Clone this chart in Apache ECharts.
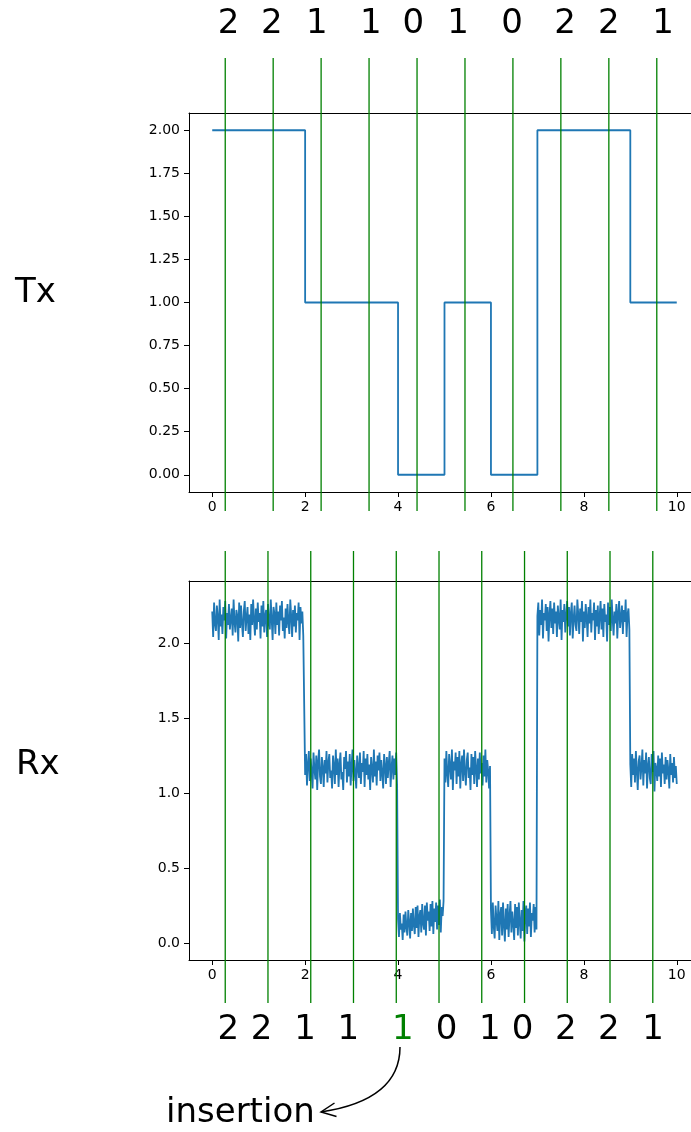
<!DOCTYPE html>
<html>
<head>
<meta charset="utf-8">
<script src="https://cdn.jsdelivr.net/npm/echarts@6/dist/echarts.min.js"></script>
<style>
html,body{margin:0;padding:0;background:#fff;}
#chart{width:691px;height:1132px;}
</style>
</head>
<body>
<div id="chart"></div>
<script>
// ---- data ----
const txX = [0, 1, 2, 3, 4, 5, 6, 7, 8, 9, 10];
const txLevels = [2, 2, 1, 1, 0, 1, 0, 2, 2, 1, 1];

const rxStep = 0.02;
const rxValues = [
  2.21,2.04,2.27,2.13,2.08,2.25,2.17,2.02,2.29,2.11,
  2.19,2.06,2.24,2.15,2.28,2.03,2.20,2.12,2.26,2.09,
  2.16,2.23,2.05,2.29,2.14,2.07,2.22,2.18,2.01,2.27,
  2.10,2.25,2.13,2.04,2.21,2.28,2.08,2.17,2.24,2.06,
  2.19,2.02,2.26,2.12,2.29,2.15,2.05,2.23,2.09,2.27,
  2.14,2.20,2.03,2.25,2.11,2.28,2.07,2.18,2.22,2.04,
  2.26,2.13,2.09,2.29,2.16,2.02,2.24,2.19,2.06,2.27,
  2.12,2.21,2.05,2.25,2.15,2.28,2.08,2.17,2.03,2.23,
  2.10,2.26,2.14,2.06,2.29,2.18,2.04,2.22,2.11,2.25,
  2.07,2.20,2.15,2.27,2.02,2.24,2.13,2.21,2.05,2.06,
  1.12,1.26,1.05,1.19,1.28,1.08,1.23,1.14,1.03,1.27,
  1.16,1.09,1.25,1.02,1.21,1.29,1.11,1.06,1.24,1.17,
  1.04,1.22,1.13,1.28,1.07,1.20,1.26,1.10,1.15,1.03,
  1.25,1.18,1.06,1.29,1.12,1.23,1.04,1.19,1.27,1.09,
  1.14,1.02,1.24,1.16,1.28,1.07,1.21,1.11,1.26,1.05,
  1.18,1.29,1.08,1.22,1.13,1.03,1.25,1.17,1.10,1.27,
  1.06,1.20,1.14,1.28,1.04,1.23,1.12,1.26,1.09,1.19,
  1.02,1.24,1.16,1.07,1.29,1.11,1.21,1.05,1.25,1.15,
  1.27,1.08,1.22,1.13,1.03,1.26,1.18,1.06,1.24,1.10,
  1.20,1.28,1.04,1.17,1.25,1.09,1.23,1.12,1.27,1.05,
  0.16,0.04,0.20,0.09,0.13,0.02,0.19,0.07,0.21,0.11,
  0.05,0.22,0.14,0.03,0.20,0.08,0.23,0.12,0.06,0.24,
  0.10,0.25,0.04,0.18,0.22,0.07,0.26,0.13,0.09,0.25,
  0.05,0.27,0.15,0.21,0.08,0.26,0.11,0.28,0.06,0.23,
  0.14,0.27,0.09,0.25,0.12,0.29,0.07,0.24,0.18,0.28,
  1.23,1.07,1.28,1.13,1.04,1.26,1.18,1.09,1.29,1.02,
  1.21,1.15,1.27,1.06,1.24,1.11,1.28,1.03,1.19,1.25,
  1.08,1.29,1.14,1.05,1.22,1.27,1.10,1.17,1.02,1.26,
  1.12,1.24,1.06,1.28,1.16,1.04,1.23,1.09,1.27,1.13,
  1.20,1.05,1.25,1.11,1.29,1.07,1.22,1.15,1.03,1.18,
  0.22,0.06,0.27,0.11,0.03,0.25,0.15,0.08,0.28,0.02,
  0.19,0.24,0.05,0.27,0.12,0.01,0.23,0.09,0.26,0.04,
  0.18,0.28,0.07,0.21,0.13,0.02,0.26,0.10,0.24,0.05,
  0.27,0.14,0.03,0.22,0.08,0.28,0.01,0.19,0.25,0.06,
  0.23,0.11,0.27,0.04,0.20,0.15,0.26,0.07,0.24,0.09,
  2.18,2.27,2.05,2.22,2.12,2.29,2.03,2.20,2.15,2.26,
  2.08,2.24,2.01,2.19,2.28,2.10,2.23,2.06,2.27,2.13,
  2.21,2.04,2.25,2.16,2.09,2.29,2.02,2.22,2.14,2.26,
  2.07,2.18,2.28,2.11,2.24,2.05,2.20,2.27,2.03,2.16,
  2.25,2.12,2.08,2.29,2.19,2.06,2.23,2.14,2.28,2.01,
  2.21,2.10,2.26,2.17,2.04,2.24,2.13,2.29,2.07,2.20,
  2.15,2.27,2.02,2.22,2.11,2.25,2.06,2.18,2.28,2.09,
  2.23,2.04,2.26,2.14,2.19,2.01,2.27,2.12,2.24,2.08,
  2.29,2.16,2.05,2.21,2.13,2.26,2.03,2.20,2.28,2.10,
  2.17,2.25,2.06,2.22,2.14,2.29,2.04,2.19,2.23,2.09,
  1.19,1.04,1.26,1.12,1.23,1.07,1.28,1.15,1.02,1.21,
  1.25,1.09,1.17,1.29,1.05,1.22,1.13,1.27,1.03,1.18,
  1.24,1.10,1.06,1.26,1.14,1.28,1.01,1.20,1.16,1.08,
  1.25,1.11,1.23,1.04,1.27,1.13,1.19,1.06,1.24,1.09,
  1.22,1.15,1.03,1.26,1.12,1.20,1.07,1.24,1.10,1.18,
  1.06
];

const topLineX = [0.280, 1.312, 2.344, 3.376, 4.409, 5.441, 6.473, 7.505, 8.538, 9.570];
const botLineX = [0.280, 1.200, 2.121, 3.041, 3.962, 4.882, 5.802, 6.723, 7.643, 8.563, 9.484];

const topDigits = ['2','2','1','1','0','1','0','2','2','1'];
const topDigitX = [0.351, 1.284, 2.252, 3.413, 4.329, 5.290, 6.452, 7.598, 8.538, 9.705];
const botDigits = ['2','2','1','1','1','0','1','0','2','2','1'];
const botDigitX = [0.344, 1.060, 2.000, 2.931, 4.103, 5.047, 5.978, 6.682, 7.609, 8.538, 9.490];
const insertedIndex = 4;

const xTicks = [0, 2, 4, 6, 8, 10];
const txYTicks = [0, 0.25, 0.5, 0.75, 1, 1.25, 1.5, 1.75, 2];
const rxYTicks = [0, 0.5, 1, 1.5, 2];

// ---- chart ----
const FONT = 'DejaVu Sans';
const X_MIN = -0.5, X_MAX = 10.3065; // right part of the axes is cropped by the figure edge
const chart = echarts.init(document.getElementById('chart'), null, {renderer: 'canvas'});

function mainX(gi) {
  return {
    gridIndex: gi, type: 'value', min: X_MIN, max: X_MAX, position: 'bottom',
    axisLine: {show: true, onZero: false, lineStyle: {color: '#000', width: 1}},
    axisTick: {show: true, length: 5, inside: false, customValues: xTicks, lineStyle: {color: '#000', width: 1}},
    axisLabel: {show: true, customValues: xTicks, fontSize: 14, color: '#000', fontFamily: FONT, margin: 8},
    splitLine: {show: false}
  };
}
function topSpine(gi) {
  return {
    gridIndex: gi, type: 'value', min: X_MIN, max: X_MAX, position: 'top',
    axisLine: {show: true, onZero: false, lineStyle: {color: '#000', width: 1}},
    axisTick: {show: false}, axisLabel: {show: false}, splitLine: {show: false}
  };
}
function mainY(gi, min, max, ticks, dec) {
  return {
    gridIndex: gi, type: 'value', min: min, max: max,
    axisLine: {show: true, onZero: false, lineStyle: {color: '#000', width: 1}},
    axisTick: {show: true, length: 5, inside: false, customValues: ticks, lineStyle: {color: '#000', width: 1}},
    axisLabel: {show: true, customValues: ticks, fontSize: 14, color: '#000', fontFamily: FONT, margin: 9,
      formatter: v => Number(v).toFixed(dec)},
    splitLine: {show: false}
  };
}
function hiddenX(gi) { return {gridIndex: gi, type: 'value', min: X_MIN, max: X_MAX, show: false}; }
function hiddenY(gi) { return {gridIndex: gi, type: 'value', min: 0, max: 1, show: false}; }

function vlineSeries(gi, xs) {
  return {
    type: 'custom', xAxisIndex: gi, yAxisIndex: gi, silent: true, z: 10,
    data: xs.map(x => [x]),
    renderItem: function (params, api) {
      const p0 = api.coord([api.value(0), 0]);
      const p1 = api.coord([api.value(0), 1]);
      return {type: 'line', shape: {x1: p0[0], y1: p0[1], x2: p1[0], y2: p1[1]},
        style: {stroke: '#008000', lineWidth: 1.3}};
    }
  };
}
function digitSeries(gi, xs, labels, highlight) {
  return {
    type: 'custom', xAxisIndex: gi, yAxisIndex: gi, silent: true, z: 10,
    data: xs.map((x, i) => [x, i]),
    renderItem: function (params, api) {
      const i = api.value(1);
      const p = api.coord([api.value(0), 0.5]);
      return {type: 'text', x: p[0], y: p[1],
        style: {text: labels[i], fontSize: 34, fontFamily: FONT,
          fill: i === highlight ? '#008000' : '#000', align: 'center', verticalAlign: 'middle'}};
    }
  };
}

const option = {
  animation: false,
  backgroundColor: '#fff',
  grid: [
    {left: 189, right: 0, top: 113, height: 379},
    {left: 189, right: 0, top: 581, height: 379},
    {left: 189, right: 0, top: 58, height: 453},
    {left: 189, right: 0, top: 551, height: 452},
    {left: 189, right: 0, top: 2, height: 45},
    {left: 189, right: 0, top: 1008, height: 45}
  ],
  xAxis: [mainX(0), mainX(1), hiddenX(2), hiddenX(3), hiddenX(4), hiddenX(5), topSpine(0), topSpine(1)],
  yAxis: [
    mainY(0, -0.1, 2.1, txYTicks, 2),
    mainY(1, -0.113, 2.413, rxYTicks, 1),
    hiddenY(2), hiddenY(3), hiddenY(4), hiddenY(5)
  ],
  series: [
    {type: 'line', xAxisIndex: 0, yAxisIndex: 0, step: 'end', showSymbol: false, silent: true,
      data: txX.map((x, i) => [x, txLevels[i]]),
      lineStyle: {color: '#1f77b4', width: 1.8}},
    {type: 'line', xAxisIndex: 1, yAxisIndex: 1, showSymbol: false, silent: true, sampling: null,
      data: rxValues.map((v, i) => [i * rxStep, v]),
      lineStyle: {color: '#1f77b4', width: 1.8}},
    vlineSeries(2, topLineX),
    vlineSeries(3, botLineX),
    digitSeries(4, topDigitX, topDigits, -1),
    digitSeries(5, botDigitX, botDigits, insertedIndex)
  ],
  graphic: [
    {type: 'text', left: 15, top: 276, style: {text: 'Tx', fontSize: 34, fontFamily: FONT, fill: '#000'}},
    {type: 'text', left: 16, top: 748, style: {text: 'Rx', fontSize: 34, fontFamily: FONT, fill: '#000'}},
    {type: 'text', left: 166, top: 1096, style: {text: 'insertion', fontSize: 34, fontFamily: FONT, fill: '#000'}},
    {type: 'bezierCurve', shape: {x1: 400, y1: 1047, cpx1: 400, cpy1: 1100, x2: 321, y2: 1112},
      style: {stroke: '#000', lineWidth: 1.5, fill: null}},
    {type: 'polyline', shape: {points: [[334.5, 1103], [321, 1112], [336.5, 1116.5]]},
      style: {stroke: '#000', lineWidth: 1.5, fill: null}}
  ]
};
chart.setOption(option);
</script>
</body>
</html>
